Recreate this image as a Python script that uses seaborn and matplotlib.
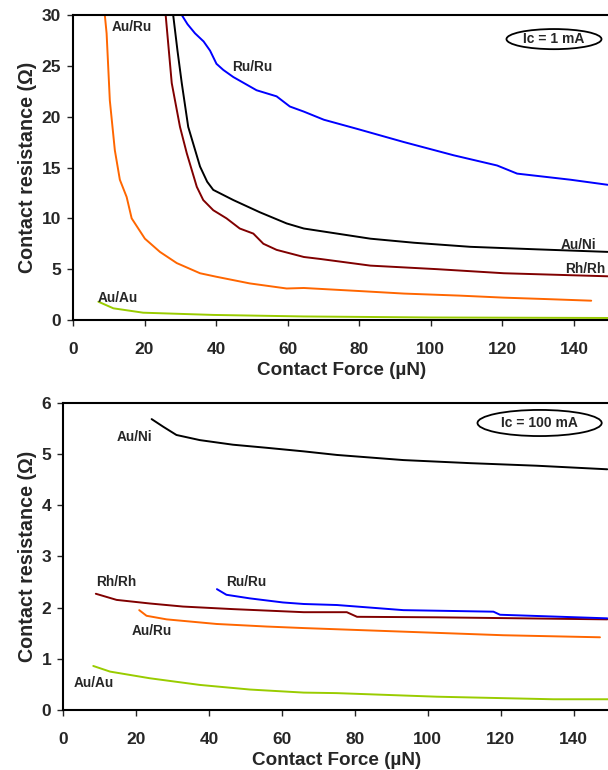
import pandas as pd
import matplotlib
matplotlib.use("Agg")
import matplotlib.pyplot as plt
from matplotlib.patches import Ellipse
import seaborn as sns

# --- Ic = 1 mA (top panel) ---
top_auru_x = [8.9, 9.4, 10.3, 11.7, 13.1, 15.0, 16.4, 20.1, 24.3, 29.0, 35.5, 40.0, 49.4, 59.7, 64.5, 80.0, 92.5, 108.0, 120.4, 133.0, 144.8]
top_auru_y = [30.0, 28.2, 21.6, 16.7, 13.8, 12.1, 10.0, 8.0, 6.7, 5.6, 4.6, 4.26, 3.6, 3.1, 3.15, 2.85, 2.6, 2.4, 2.2, 2.05, 1.9]

top_auni_x = [28.0, 29.2, 30.4, 32.2, 35.5, 37.5, 39.2, 44.8, 52.2, 59.7, 64.5, 73.8, 83.1, 95.3, 111.0, 129.7, 149.4]
top_auni_y = [30.0, 26.5, 23.3, 19.0, 15.1, 13.6, 12.8, 11.8, 10.6, 9.5, 9.0, 8.5, 8.0, 7.6, 7.2, 6.95, 6.7]

top_rhrh_x = [25.9, 27.6, 29.9, 31.8, 34.6, 36.4, 39.2, 42.9, 46.6, 50.4, 53.2, 56.9, 64.5, 69.2, 83.1, 101.8, 120.4, 149.4]
top_rhrh_y = [30.0, 23.3, 19.0, 16.4, 13.1, 11.8, 10.8, 10.0, 9.0, 8.5, 7.5, 6.9, 6.2, 6.0, 5.35, 5.0, 4.6, 4.3]

top_ruru_x = [30.4, 32.0, 34.1, 36.5, 38.3, 40.1, 42.0, 44.8, 51.3, 56.9, 60.6, 64.5, 70.1, 79.4, 92.5, 106.4, 118.5, 124.1, 139.0, 149.4]
top_ruru_y = [30.0, 29.1, 28.2, 27.4, 26.5, 25.2, 24.6, 23.9, 22.6, 22.0, 21.0, 20.5, 19.7, 18.8, 17.5, 16.2, 15.2, 14.4, 13.8, 13.3]

top_auau_x = [7.1, 11.3, 19.6, 39.2, 64.5, 100.0, 150.0]
top_auau_y = [1.8, 1.15, 0.72, 0.5, 0.35, 0.25, 0.2]

# --- Ic = 100 mA (bottom panel) ---
bot_auni_x = [24.3, 27.5, 31.1, 37.5, 46.6, 55.8, 66.0, 75.1, 93.3, 111.6, 129.8, 149.2]
bot_auni_y = [5.68, 5.53, 5.37, 5.27, 5.18, 5.12, 5.05, 4.98, 4.88, 4.82, 4.77, 4.70]

bot_ruru_x = [42.2, 44.8, 51.2, 60.3, 66.0, 75.1, 93.3, 118.0, 119.8, 149.2]
bot_ruru_y = [2.36, 2.25, 2.18, 2.10, 2.07, 2.05, 1.95, 1.92, 1.86, 1.79]

bot_rhrh_x = [9.0, 14.7, 23.8, 32.9, 46.6, 66.0, 77.8, 80.6, 102.5, 149.2]
bot_rhrh_y = [2.27, 2.15, 2.08, 2.02, 1.97, 1.91, 1.91, 1.82, 1.81, 1.77]

bot_auru_x = [20.9, 22.9, 28.4, 42.1, 55.8, 66.0, 93.3, 120.7, 147.2]
bot_auru_y = [1.95, 1.84, 1.77, 1.68, 1.63, 1.60, 1.53, 1.46, 1.42]

bot_auau_x = [8.3, 12.9, 23.8, 37.5, 51.2, 66.0, 75.0, 102.5, 134.4, 150.0]
bot_auau_y = [0.86, 0.75, 0.62, 0.49, 0.40, 0.34, 0.33, 0.26, 0.21, 0.21]

COLORS = {"Au/Ru": "#FF6600", "Au/Ni": "#000000", "Rh/Rh": "#800000",
          "Ru/Ru": "#0000FF", "Au/Au": "#99CC00"}


def make_frame(series):
    rows = []
    for name, xs, ys in series:
        for x, y in zip(xs, ys):
            rows.append({"pair": name, "force": x, "resistance": y})
    return pd.DataFrame(rows)


top_df = make_frame([
    ("Au/Ru", top_auru_x, top_auru_y),
    ("Au/Ni", top_auni_x, top_auni_y),
    ("Rh/Rh", top_rhrh_x, top_rhrh_y),
    ("Ru/Ru", top_ruru_x, top_ruru_y),
    ("Au/Au", top_auau_x, top_auau_y),
])
bot_df = make_frame([
    ("Au/Ru", bot_auru_x, bot_auru_y),
    ("Au/Ni", bot_auni_x, bot_auni_y),
    ("Rh/Rh", bot_rhrh_x, bot_rhrh_y),
    ("Ru/Ru", bot_ruru_x, bot_ruru_y),
    ("Au/Au", bot_auau_x, bot_auau_y),
])

sns.set_style("white")
plt.rcParams['font.family'] = ['Liberation Sans', 'DejaVu Sans']

fig = plt.figure(figsize=(6.08, 7.70), dpi=100)
ax1 = fig.add_axes([0.120, 0.5844, 0.883, 0.3961])
ax2 = fig.add_axes([0.1036, 0.0779, 0.900, 0.3991])


def style_axes(ax, ymax, ystep):
    ax.set_xlim(0, 150)
    ax.set_ylim(0, ymax)
    ax.set_xticks(range(0, 141, 20))
    ax.set_yticks([i * ystep for i in range(int(ymax / ystep) + 1)])
    ax.tick_params(axis='both', direction='out', length=4.5, width=1.0, labelsize=12.5,
                   bottom=True, left=True)
    ax.tick_params(axis='x', pad=11)
    ax.tick_params(axis='y', pad=4)
    for lbl in ax.get_xticklabels() + ax.get_yticklabels():
        lbl.set_fontweight('bold')
    for side in ax.spines.values():
        side.set_color('black')
        side.set_linewidth(1.5)
    ax.set_xlabel("Contact Force (µN)", fontsize=13.6, fontweight='bold', labelpad=4)
    ax.set_ylabel("Contact resistance (Ω)", fontsize=14.2, fontweight='bold', labelpad=3)


for ax, df in [(ax1, top_df), (ax2, bot_df)]:
    sns.lineplot(data=df, x="force", y="resistance", hue="pair", palette=COLORS,
                 linewidth=1.4, legend=False, ax=ax, sort=False, estimator=None)

style_axes(ax1, 30, 5)
style_axes(ax2, 6, 1)

lbl_kw = dict(fontsize=9.8, fontweight='bold', va='center', ha='left')
ax1.text(10.8, 28.8, "Au/Ru", **lbl_kw)
ax1.text(44.4, 24.9, "Ru/Ru", **lbl_kw)
ax1.text(136.2, 7.4, "Au/Ni", **lbl_kw)
ax1.text(137.6, 5.0, "Rh/Rh", **lbl_kw)
ax1.text(7.0, 2.2, "Au/Au", **lbl_kw)

ax2.text(14.7, 5.34, "Au/Ni", **lbl_kw)
ax2.text(9.2, 2.49, "Rh/Rh", **lbl_kw)
ax2.text(44.6, 2.49, "Ru/Ru", **lbl_kw)
ax2.text(18.8, 1.55, "Au/Ru", **lbl_kw)
ax2.text(2.8, 0.52, "Au/Au", **lbl_kw)

ax1.add_patch(Ellipse((0.896, 0.921), 0.177, 0.066, transform=ax1.transAxes,
                      facecolor='white', edgecolor='black', linewidth=1.3))
ax1.text(0.896, 0.921, "Ic = 1 mA", transform=ax1.transAxes, ha='center', va='center',
         fontsize=10, fontweight='bold')
ax2.add_patch(Ellipse((0.871, 0.934), 0.227, 0.085, transform=ax2.transAxes,
                      facecolor='white', edgecolor='black', linewidth=1.3))
ax2.text(0.871, 0.934, "Ic = 100 mA", transform=ax2.transAxes, ha='center', va='center',
         fontsize=10, fontweight='bold')

fig.savefig("out.png", dpi=100)
